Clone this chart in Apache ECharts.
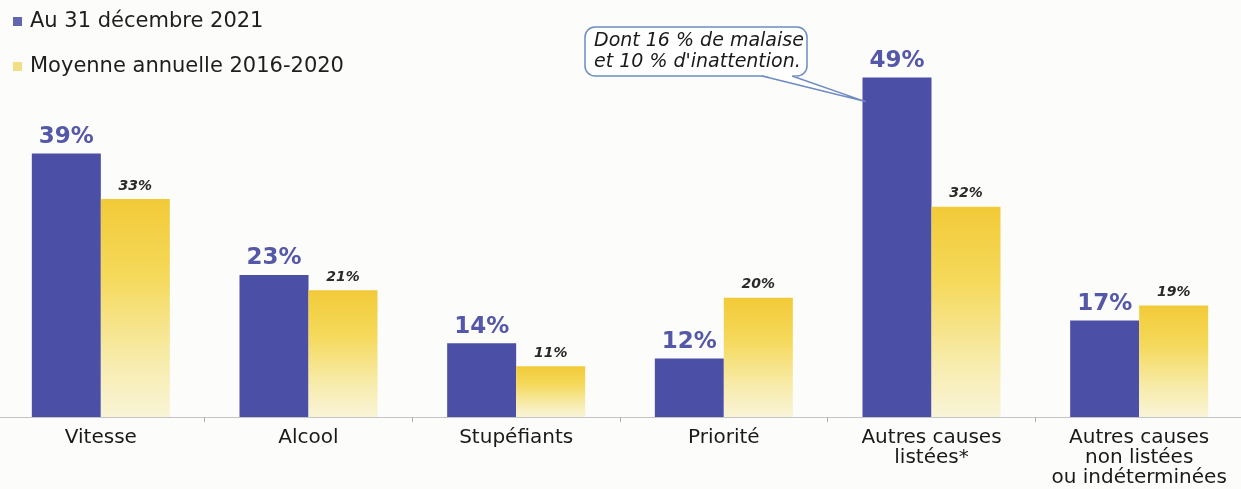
<!DOCTYPE html>
<html>
<head>
<meta charset="utf-8">
<script src="https://cdn.jsdelivr.net/npm/echarts@6/dist/echarts.min.js"></script>
<style>
html,body{margin:0;padding:0;background:#fcfcfa;}
#c{width:1241px;height:489px;}
</style>
</head>
<body>
<div id="c"></div>
<script>
const categories = ['Vitesse', 'Alcool', 'Stupéfiants', 'Priorité', 'Autres causes\nlistées*', 'Autres causes\nnon listées\nou indéterminées'];
const values2021 = [39, 23, 14, 12, 49, 17];
const valuesAvg = [33, 21, 11, 20, 32, 19];
const seriesNames = ['Au 31 décembre 2021', 'Moyenne annuelle 2016-2020'];
const calloutLines = ['Dont 16 % de malaise', 'et 10 % d\'inattention.'];
const calloutIndex = 4;

const FONT = 'DejaVu Sans';
const BLUE = '#4b4fa6';
const chart = echarts.init(document.getElementById('c'), null, {renderer: 'canvas'});

const option = {
  backgroundColor: '#fcfcfa',
  animation: false,
  legend: {
    orient: 'vertical',
    left: 8,
    top: 6,
    itemWidth: 9,
    itemHeight: 9,
    itemGap: 24,
    icon: 'rect',
    textStyle: {fontFamily: FONT, fontSize: 21, color: '#1e1e1e', lineHeight: 21, padding: [0, 0, 0, 3]},
    data: [
      {name: seriesNames[0], itemStyle: {color: '#6266b0'}},
      {name: seriesNames[1], itemStyle: {color: '#f1df86'}}
    ]
  },
  grid: {left: -3, right: -2, top: 70, bottom: 72, outerBoundsMode: 'none'},
  xAxis: {
    type: 'category',
    data: categories,
    axisLine: {lineStyle: {color: '#c4c4c4', width: 1}},
    axisTick: {show: true, length: 5, lineStyle: {color: '#b0b0b0'}},
    axisLabel: {fontFamily: FONT, fontSize: 20, color: '#1a1a1a', lineHeight: 20, margin: 11, interval: 0}
  },
  yAxis: {
    type: 'value',
    min: 4.3,
    max: 50,
    show: false,
    splitLine: {show: false}
  },
  series: [
    {
      name: seriesNames[0],
      type: 'bar',
      data: values2021,
      barWidth: 69,
      barGap: '0%',
      itemStyle: {color: BLUE},
      label: {
        show: true, position: 'top', distance: 5,
        formatter: '{c}%',
        fontFamily: FONT, fontWeight: 'bold', fontSize: 23, color: '#5558a8'
      }
    },
    {
      name: seriesNames[1],
      type: 'bar',
      data: valuesAvg,
      barWidth: 69,
      itemStyle: {
        color: {
          type: 'linear', x: 0, y: 0, x2: 0, y2: 1,
          colorStops: [
            {offset: 0, color: '#f2ca38'},
            {offset: 0.35, color: '#f5d95a'},
            {offset: 0.75, color: '#f7ecad'},
            {offset: 1, color: '#f9f4d8'}
          ]
        }
      },
      label: {
        show: true, position: 'top', distance: 6,
        formatter: '{c}%',
        fontFamily: FONT, fontWeight: 'bold', fontStyle: 'italic', fontSize: 14, color: '#2a2a2a'
      }
    }
  ]
};
chart.setOption(option);

// Callout bubble pointing to the 2021 bar of "Autres causes listées*"
const layout = chart.getModel().getSeriesByIndex(0).getData().getItemLayout(calloutIndex);
const barTopY = Math.min(layout.y, layout.y + layout.height);
const tipX = layout.x + 3;
const tipY = barTopY + 24;
const L = 585, T = 27, R = 807, B = 76;
const x1 = 762, x2 = 792;
const STROKE = '#6d8cc0';

chart.setOption({
  graphic: [
    {
      type: 'rect',
      shape: {x: L, y: T, width: R - L, height: B - T, r: 10},
      style: {fill: '#ffffff', stroke: STROKE, lineWidth: 1.5},
      z: 10
    },
    {
      type: 'polygon',
      shape: {points: [[x1, B - 1], [tipX, tipY], [x2, B - 1]]},
      style: {fill: '#ffffff', stroke: null},
      z: 11
    },
    {
      type: 'polyline',
      shape: {points: [[x1, B], [tipX, tipY], [x2, B]]},
      style: {fill: null, stroke: STROKE, lineWidth: 1.5},
      z: 12
    },
    {
      type: 'text',
      left: 594,
      top: 31,
      style: {
        text: calloutLines.join('\n'),
        fontFamily: FONT, fontStyle: 'italic', fontSize: 19, lineHeight: 21,
        fill: '#1a1a1a'
      },
      z: 13
    }
  ]
});
</script>
</body>
</html>
